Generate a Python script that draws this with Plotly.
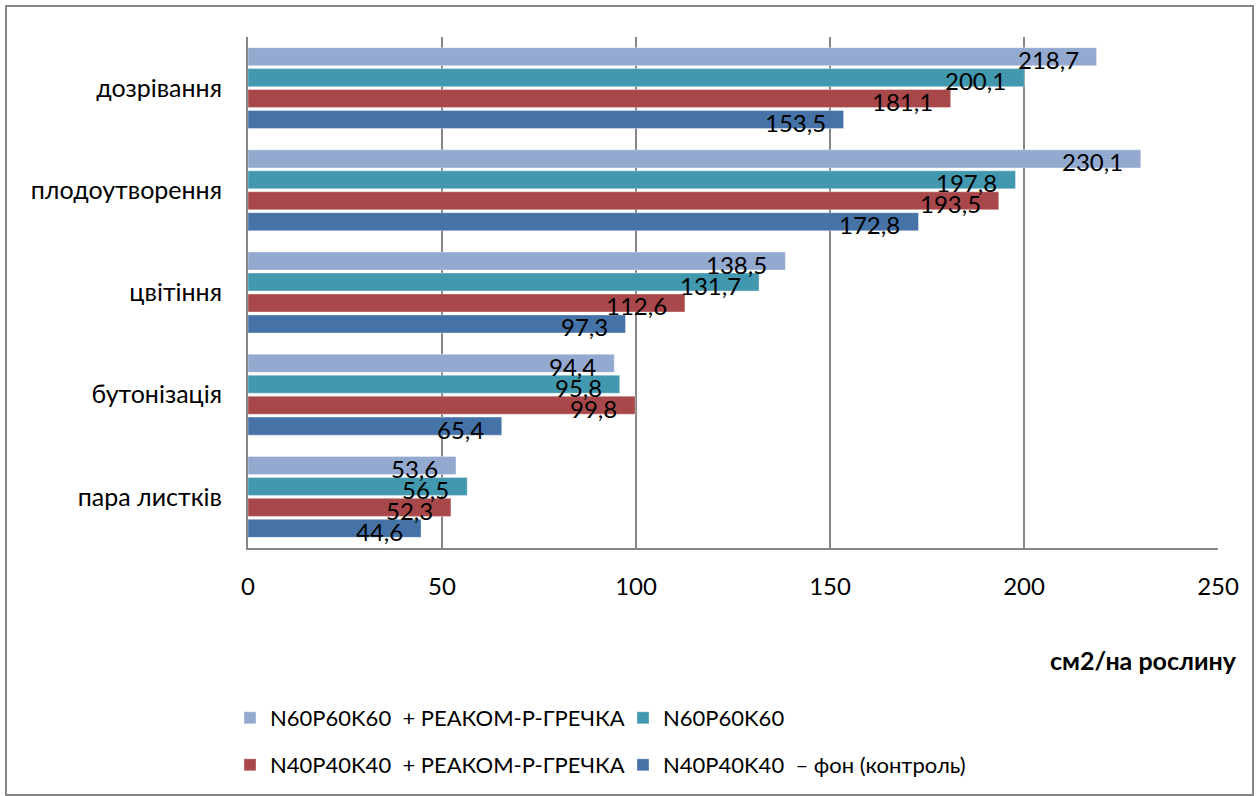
import plotly.graph_objects as go

categories = ["дозрівання", "плодоутворення", "цвітіння", "бутонізація", "пара листків"]
series_names = [
    "N60P60K60  + РЕАКОМ-Р-ГРЕЧКА",
    "N60P60K60",
    "N40P40K40  + РЕАКОМ-Р-ГРЕЧКА",
    "N40P40K40  – фон (контроль)",
]
s_n60_reakom = [218.7, 230.1, 138.5, 94.4, 53.6]
s_n60 = [200.1, 197.8, 131.7, 95.8, 56.5]
s_n40_reakom = [181.1, 193.5, 112.6, 99.8, 52.3]
s_n40_control = [153.5, 172.8, 97.3, 65.4, 44.6]
colors = ["#93A9CF", "#4198AF", "#A9484A", "#4572A7"]
x_ticks = [0, 50, 100, 150, 200, 250]

FONT = "Lato, 'Noto Sans', sans-serif"
FS = 23
W, H = 1259, 796
ML, MR, MT, MB = 248, 41, 37, 248
BARGAP = 0.18
BARGROUPGAP = 0.14

fig = go.Figure()
all_series = [s_n60_reakom, s_n60, s_n40_reakom, s_n40_control]
legends = ["legend", "legend", "legend2", "legend2"]
for name, vals, col, lg in zip(series_names, all_series, colors, legends):
    fig.add_trace(go.Bar(
        y=categories, x=vals, orientation="h", name=name,
        marker=dict(color=col, line=dict(color="rgba(255,255,255,0.35)", width=1)),
        legend=lg,
    ))

pw = W - ML - MR
ph = H - MT - MB
def px_x(p):
    return (p - ML) / pw
def px_y(p):
    return (H - MB - p) / ph

# data labels, placed at each bar's end inside the bar
cat_px = ph / len(categories)
slot_px = cat_px * (1 - BARGAP) / len(all_series)
annotations = []
for i, vals in enumerate(all_series):
    yshift = (1.5 - i) * slot_px
    for c, v in zip(categories, vals):
        annotations.append(dict(
            x=v, y=c, xref="x", yref="y", text=f"{v:.1f}".replace(".", ","),
            xanchor="right", yanchor="middle", xshift=-16, yshift=yshift - 3,
            showarrow=False, font=dict(size=24, color="black", family=FONT)))

annotations.append(dict(text="<b>см2/на рослину</b>", xref="paper", yref="paper",
                        x=px_x(1239), y=px_y(660), xanchor="right", yanchor="middle",
                        showarrow=False, font=dict(size=25)))

leg_common = dict(orientation="h", xref="container", yref="container",
                  xanchor="left", yanchor="middle",
                  entrywidth=348, entrywidthmode="pixels", font=dict(size=22),
                  itemwidth=30, bgcolor="rgba(0,0,0,0)")

fig.update_layout(
    width=W, height=H,
    margin=dict(l=ML, r=MR, t=MT, b=MB),
    paper_bgcolor="white", plot_bgcolor="white",
    barmode="group", bargap=BARGAP, bargroupgap=BARGROUPGAP,
    font=dict(family=FONT, size=FS, color="black"),
    xaxis=dict(range=[0, 250], tickvals=x_ticks, showgrid=True, gridcolor="#868686", gridwidth=2,
               showline=True, linecolor="#868686", linewidth=2, zeroline=False,
               ticks="", tickfont=dict(size=24), ticklabelstandoff=16, automargin=False),
    yaxis=dict(autorange="reversed", showline=True, linecolor="#868686", linewidth=2,
               ticks="", tickfont=dict(size=25), ticklabelstandoff=19, automargin=False),
    legend=dict(x=(236 - 6) / W, y=(H - 718) / H, **leg_common),
    legend2=dict(x=(236 - 6) / W, y=(H - 765) / H, **leg_common),
    annotations=annotations,
    shapes=[dict(type="rect", xref="paper", yref="paper",
                 x0=px_x(6), x1=px_x(1253), y0=px_y(795), y1=px_y(6),
                 line=dict(color="#868686", width=2), layer="below")],
)

fig.write_html("out.html", config={"displayModeBar": False},
               post_script="document.body.style.margin='0';")
